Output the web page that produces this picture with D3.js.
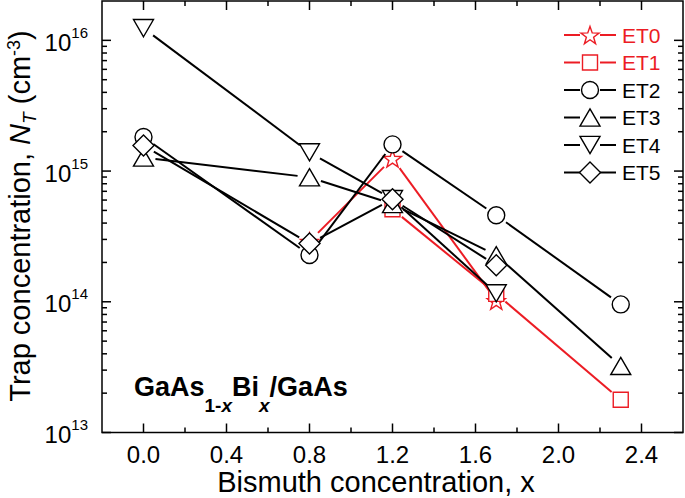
<!DOCTYPE html>
<html>
<head>
<meta charset="utf-8">
<script src="https://cdn.jsdelivr.net/npm/d3@7"></script>
<style>
  html, body { margin: 0; padding: 0; background: #fff; }
  svg { display: block; font-family: Arial, "Liberation Sans", sans-serif; }
</style>
</head>
<body>
<svg id="chart" width="685" height="498"></svg>
<script>
// ---------- data ----------
const bismuthX = [0.0, 0.8, 1.2, 1.7, 2.3];
const seriesNames = ["ET0", "ET1", "ET2", "ET3", "ET4", "ET5"];
const ET0 = [null, 2.9e14, 1.25e15, 1.02e14, null];
const ET1 = [null, null, 5.1e14, 1.15e14, 1.78e13];
const ET2 = [1.82e15, 2.28e14, 1.6e15, 4.59e14, 9.55e13];
const ET3 = [1.27e15, 8.96e14, 5.6e14, 2.27e14, 3.23e13];
const ET4 = [1.24e16, 1.39e15, 6.1e14, 1.16e14, null];
const ET5 = [1.57e15, 2.79e14, 6.08e14, 1.9e14, null];
const seriesValues = [ET0, ET1, ET2, ET3, ET4, ET5];
const xTickValues = [0.0, 0.4, 0.8, 1.2, 1.6, 2.0, 2.4];
const xTickLabels = ["0.0", "0.4", "0.8", "1.2", "1.6", "2.0", "2.4"];
const xMinorValues = [0.2, 0.6, 1.0, 1.4, 1.8, 2.2];
const yTickExponents = [13, 14, 15, 16];
const xTitle = "Bismuth concentration, x";

// ---------- styles ----------
const RED = "#ec1c24";
const styleOf = {
  ET0: { color: RED, symbol: "star" },
  ET1: { color: RED, symbol: "square" },
  ET2: { color: "#000", symbol: "circle" },
  ET3: { color: "#000", symbol: "triUp" },
  ET4: { color: "#000", symbol: "triDown" },
  ET5: { color: "#000", symbol: "diamond" }
};

function symbolPath(type) {
  switch (type) {
    case "circle": {
      const r = 8.5;
      return `M${r},0A${r},${r} 0 1,1 ${-r},0A${r},${r} 0 1,1 ${r},0Z`;
    }
    case "square": {
      const h = 7.5;
      return `M${-h},${-h}H${h}V${h}H${-h}Z`;
    }
    case "triUp": {
      const w = 10, h = 8.6;
      return `M0,${-h}L${w},${h}L${-w},${h}Z`;
    }
    case "triDown": {
      const w = 10, h = 8.6;
      return `M0,${h}L${w},${-h}L${-w},${-h}Z`;
    }
    case "diamond": {
      const r = 10.5;
      return `M0,${-r}L${r},0L0,${r}L${-r},0Z`;
    }
    case "star": {
      const R = 9.5, r = R * 0.40;
      const pts = [];
      for (let i = 0; i < 10; i++) {
        const a = -Math.PI / 2 + i * Math.PI / 5;
        const rr = i % 2 === 0 ? R : r;
        pts.push([rr * Math.cos(a), rr * Math.sin(a) + 1]);
      }
      return "M" + pts.map(p => p[0].toFixed(2) + "," + p[1].toFixed(2)).join("L") + "Z";
    }
  }
}

// ---------- layout ----------
const svg = d3.select("#chart");
const L = 102, R = 683, T = 1, B = 432.5;
const x = d3.scaleLinear().domain([-0.2, 2.6]).range([L, R]);
const y = d3.scaleLog().domain([1e13, 2e16]).range([B, T]);

// ---------- series ----------
const GAP = 12;
const plot = svg.append("g");
seriesNames.forEach((name, si) => {
  const st = styleOf[name];
  const vals = seriesValues[si];
  const pts = bismuthX.map((xv, i) => vals[i] == null ? null : [x(xv), y(vals[i])]).filter(p => p);
  const g = plot.append("g");
  for (let i = 0; i < pts.length - 1; i++) {
    const [x1, y1] = pts[i], [x2, y2] = pts[i + 1];
    const d = Math.hypot(x2 - x1, y2 - y1);
    const ux = (x2 - x1) / d, uy = (y2 - y1) / d;
    g.append("line")
      .attr("x1", x1 + ux * GAP).attr("y1", y1 + uy * GAP)
      .attr("x2", x2 - ux * GAP).attr("y2", y2 - uy * GAP)
      .attr("stroke", st.color).attr("stroke-width", 2);
  }
  g.selectAll("path").data(pts).enter().append("path")
    .attr("d", symbolPath(st.symbol))
    .attr("transform", p => `translate(${p[0]},${p[1]})`)
    .attr("fill", "#fff").attr("stroke", st.color).attr("stroke-width", 1.4);
});

// ---------- frame and ticks ----------
const axes = svg.append("g").attr("stroke", "#000").attr("stroke-width", 1.5);
axes.append("rect").attr("x", L).attr("y", T).attr("width", R - L).attr("height", B - T)
  .attr("fill", "none");

const MAJ = 9, MIN = 5;
xTickValues.forEach(v => {
  axes.append("line").attr("x1", x(v)).attr("x2", x(v)).attr("y1", B).attr("y2", B - MAJ);
  axes.append("line").attr("x1", x(v)).attr("x2", x(v)).attr("y1", T).attr("y2", T + MAJ);
});
xMinorValues.forEach(v => {
  axes.append("line").attr("x1", x(v)).attr("x2", x(v)).attr("y1", B).attr("y2", B - MIN);
  axes.append("line").attr("x1", x(v)).attr("x2", x(v)).attr("y1", T).attr("y2", T + MIN);
});
yTickExponents.forEach(e => {
  const v = Math.pow(10, e);
  axes.append("line").attr("x1", L).attr("x2", L + MAJ).attr("y1", y(v)).attr("y2", y(v));
  axes.append("line").attr("x1", R).attr("x2", R - MAJ).attr("y1", y(v)).attr("y2", y(v));
  if (e < 16) {
    for (let m = 2; m <= 9; m++) {
      const mv = m * v;
      axes.append("line").attr("x1", L).attr("x2", L + MIN).attr("y1", y(mv)).attr("y2", y(mv));
      axes.append("line").attr("x1", R).attr("x2", R - MIN).attr("y1", y(mv)).attr("y2", y(mv));
    }
  }
});

// ---------- tick labels ----------
xTickValues.forEach((v, i) => {
  svg.append("text").attr("x", x(v)).attr("y", 462.5)
    .attr("text-anchor", "middle").attr("font-size", 24).text(xTickLabels[i]);
});
yTickExponents.forEach(e => {
  const t = svg.append("text").attr("x", 88).attr("y", y(Math.pow(10, e)) + 10.5)
    .attr("text-anchor", "end").attr("font-size", 24);
  t.append("tspan").text("10");
  t.append("tspan").attr("dy", -13).attr("font-size", 15).text(String(e));
});

// ---------- axis titles ----------
svg.append("text").attr("x", 376).attr("y", 492).attr("text-anchor", "middle")
  .attr("font-size", 29).text(xTitle);

const yt = svg.append("text").attr("transform", "translate(30,216) rotate(-90)")
  .attr("text-anchor", "middle").attr("font-size", 29);
yt.append("tspan").text("Trap concentration, ");
yt.append("tspan").attr("font-style", "italic").text("N");
yt.append("tspan").attr("font-style", "italic").attr("font-size", 19).attr("dy", 6).text("T");
yt.append("tspan").attr("dy", -6).text(" (cm");
yt.append("tspan").attr("font-size", 18).attr("dy", -10).text("-3");
yt.append("tspan").attr("dy", 10).text(")");

// ---------- annotation ----------
const an = svg.append("text").attr("x", 134).attr("y", 396)
  .attr("font-size", 27).attr("font-weight", "bold");
an.append("tspan").text("GaAs");
an.append("tspan").attr("font-size", 19).attr("dy", 16).text("1-");
an.append("tspan").attr("font-size", 19).attr("font-style", "italic").text("x");
an.append("tspan").attr("dy", -16).text("Bi");
an.append("tspan").attr("font-size", 19).attr("font-style", "italic").attr("dy", 16).text("x");
an.append("tspan").attr("dy", -16).text("/GaAs");

// ---------- legend ----------
const lg = svg.append("g");
seriesNames.forEach((name, i) => {
  const st = styleOf[name];
  const cy = 35 + i * 27.5;
  lg.append("line").attr("x1", 564).attr("x2", 580).attr("y1", cy).attr("y2", cy)
    .attr("stroke", st.color).attr("stroke-width", 2);
  lg.append("line").attr("x1", 600).attr("x2", 616).attr("y1", cy).attr("y2", cy)
    .attr("stroke", st.color).attr("stroke-width", 2);
  lg.append("path").attr("d", symbolPath(st.symbol))
    .attr("transform", `translate(590,${cy})`)
    .attr("fill", "#fff").attr("stroke", st.color).attr("stroke-width", 1.4);
  lg.append("text").attr("x", 622).attr("y", cy + 7.5).attr("font-size", 21)
    .attr("fill", st.color).text(name);
});
</script>
</body>
</html>
